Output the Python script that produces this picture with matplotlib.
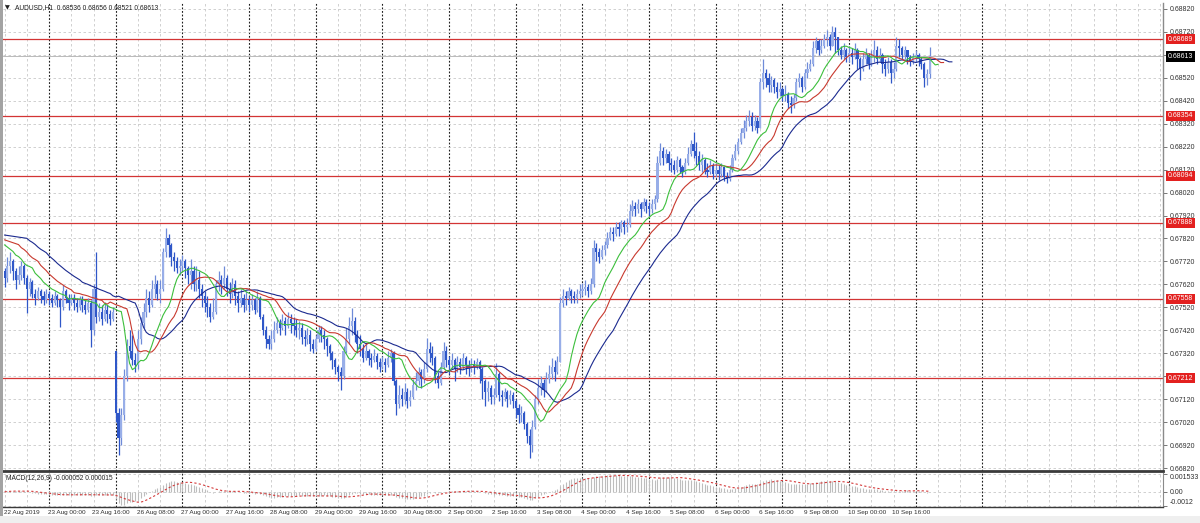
import numpy as np
import matplotlib
matplotlib.use("Agg")
import matplotlib.pyplot as plt
from matplotlib.patches import Rectangle
from matplotlib.transforms import blended_transform_factory as blend

plt.rcParams["font.family"] = ["Liberation Sans", "DejaVu Sans"]

# ---------------- data (prices in points, 1 point = 0.00001) ----------------
symbol_title = "AUDUSD,H1  0.68536 0.68656 0.68521 0.68613"
macd_title = "MACD(12,26,9) -0.000052 0.000015"

first_open = 67680
gap_opens = {40: 67330}

close_pts = [
    67650, 67700, 67720, 67680, 67640, 67660, 67700, 67650,
    67600, 67630, 67580, 67560, 67590, 67570, 67550, 67580,
    67560, 67540, 67570, 67550, 67520, 67590, 67560, 67540,
    67560, 67540, 67520, 67550, 67530, 67510, 67540, 67420,
    67600, 67480, 67500, 67470, 67510, 67490, 67470, 67500,
    67060, 66950, 67050, 67220, 67350, 67330, 67290, 67270,
    67380, 67450, 67500, 67560, 67530, 67600, 67620, 67580,
    67600, 67760, 67820, 67790, 67740, 67720, 67690, 67700,
    67720, 67690, 67660, 67680, 67620, 67640, 67600, 67570,
    67540, 67520, 67480, 67500, 67620, 67640, 67620, 67650,
    67600, 67580, 67620, 67570, 67540, 67560, 67530, 67550,
    67530, 67550, 67510, 67560, 67480, 67420, 67380, 67360,
    67380, 67420, 67450, 67430, 67460, 67440, 67470, 67450,
    67440, 67420, 67430, 67390, 67380, 67400, 67360, 67340,
    67380, 67420, 67400, 67380, 67350, 67320, 67290, 67260,
    67240, 67220, 67330, 67380, 67440, 67460, 67400, 67360,
    67340, 67300, 67330, 67300, 67290, 67310, 67280, 67260,
    67280, 67270, 67300, 67320, 67200, 67100, 67140, 67120,
    67150, 67110, 67130, 67180, 67200, 67240, 67210, 67250,
    67340, 67320, 67300, 67220, 67190, 67260, 67330, 67290,
    67270, 67290, 67250, 67280, 67260, 67300, 67270, 67250,
    67270, 67260, 67280, 67250, 67200, 67150, 67170, 67130,
    67140, 67230, 67140, 67130, 67150, 67120, 67140, 67110,
    67080, 67050, 67060, 67010, 66960, 66920, 67000, 67120,
    67170, 67190, 67160, 67210, 67230, 67260, 67240, 67280,
    67540, 67570, 67560, 67590, 67570, 67560, 67580, 67590,
    67600, 67610, 67590, 67620, 67780, 67760, 67740, 67770,
    67790, 67820, 67850, 67840, 67870, 67860, 67890, 67870,
    67880, 67940, 67960, 67950, 67970, 67950, 67980, 67960,
    67950, 67970, 67990, 68150, 68200, 68170, 68190, 68150,
    68140, 68120, 68160, 68130, 68110, 68150, 68190, 68230,
    68200, 68180, 68140, 68160, 68120, 68110, 68140, 68100,
    68120, 68100, 68130, 68090, 68080, 68120, 68170, 68200,
    68240, 68280, 68300, 68330, 68350, 68310, 68330, 68300,
    68500, 68540, 68520, 68490, 68510, 68480, 68460, 68470,
    68440, 68450, 68410, 68400, 68430, 68500, 68520, 68480,
    68540, 68560, 68580, 68650, 68680, 68640, 68660, 68690,
    68700, 68660, 68720, 68700, 68640, 68620, 68640, 68610,
    68630, 68610, 68640, 68600, 68560, 68600, 68620, 68580,
    68610, 68640, 68600, 68620, 68580, 68560, 68590, 68540,
    68560, 68660, 68650, 68620, 68640, 68610, 68590, 68610,
    68620, 68600, 68580, 68520, 68536, 68613,
]

high_pts = [
    67690, 67740, 67760, 67730, 67690, 67700, 67720, 67710,
    67660, 67650, 67640, 67600, 67610, 67600, 67590, 67600,
    67590, 67580, 67590, 67580, 67560, 67617, 67600, 67580,
    67580, 67580, 67560, 67570, 67570, 67550, 67560, 67550,
    67620, 67761, 67540, 67530, 67545, 67530, 67510, 67520,
    67330, 67080, 67080, 67250, 67380, 67420, 67400, 67320,
    67420, 67480, 67540, 67600, 67590, 67640, 67660, 67640,
    67640, 67780, 67866, 67840, 67800, 67760, 67740, 67730,
    67750, 67730, 67700, 67730, 67700, 67700, 67680, 67620,
    67590, 67570, 67540, 67560, 67640, 67680, 67660, 67700,
    67660, 67630, 67650, 67640, 67590, 67600, 67580, 67590,
    67570, 67580, 67560, 67590, 67570, 67490, 67440, 67400,
    67420, 67460, 67480, 67470, 67490, 67480, 67500, 67490,
    67480, 67470, 67460, 67450, 67420, 67430, 67420, 67380,
    67400, 67443, 67440, 67420, 67390, 67360, 67330, 67300,
    67270, 67260, 67350, 67430, 67480, 67517, 67480, 67420,
    67400, 67360, 67360, 67340, 67320, 67340, 67320, 67300,
    67310, 67300, 67330, 67340, 67330, 67210, 67180, 67170,
    67190, 67170, 67160, 67210, 67240, 67260, 67250, 67280,
    67387, 67370, 67350, 67310, 67240, 67280, 67369, 67350,
    67310, 67320, 67300, 67310, 67300, 67320, 67310, 67290,
    67300, 67290, 67300, 67290, 67260, 67210, 67200, 67180,
    67170, 67278, 67240, 67160, 67170, 67160, 67160, 67150,
    67120, 67100, 67090, 67070, 67020, 66990, 67030, 67140,
    67210, 67220, 67210, 67240, 67270, 67300, 67290, 67310,
    67565, 67600, 67590, 67610, 67600, 67590, 67600, 67620,
    67626, 67640, 67620, 67650, 67814, 67800, 67780, 67790,
    67810, 67850, 67870, 67870, 67890, 67890, 67901, 67900,
    67910, 67970, 67988, 67980, 67990, 67980, 67995, 67990,
    67980, 67990, 68010, 68180, 68236, 68220, 68210, 68200,
    68170, 68160, 68180, 68170, 68140, 68170, 68220, 68250,
    68284, 68240, 68200, 68190, 68170, 68150, 68160, 68150,
    68150, 68140, 68149, 68130, 68110, 68140, 68190, 68230,
    68260, 68300, 68336, 68360, 68380, 68370, 68360, 68350,
    68520, 68600, 68560, 68540, 68530, 68520, 68500, 68500,
    68480, 68490, 68460, 68440, 68450, 68520, 68540, 68530,
    68560, 68590, 68600, 68680, 68700, 68690, 68690, 68710,
    68730, 68710, 68746, 68740, 68700, 68660, 68670, 68650,
    68660, 68650, 68670, 68650, 68610, 68630, 68650, 68630,
    68640, 68685, 68660, 68650, 68630, 68600, 68610, 68600,
    68590, 68700, 68690, 68660, 68660, 68640, 68620, 68630,
    68640, 68630, 68610, 68590, 68560, 68656,
]

low_pts = [
    67610, 67630, 67670, 67640, 67600, 67620, 67640, 67620,
    67496, 67570, 67560, 67530, 67550, 67540, 67530, 67540,
    67530, 67520, 67530, 67520, 67435, 67510, 67540, 67510,
    67530, 67510, 67500, 67510, 67500, 67490, 67500, 67347,
    67400, 67450, 67460, 67443, 67460, 67450, 67445, 67460,
    67020, 66877, 66920, 67030, 67200, 67300, 67270, 67240,
    67250, 67360, 67430, 67480, 67500, 67520, 67560, 67550,
    67540, 67590, 67740, 67740, 67700, 67680, 67670, 67660,
    67680, 67650, 67620, 67600, 67590, 67590, 67560, 67520,
    67500, 67480, 67457, 67470, 67490, 67590, 67580, 67600,
    67570, 67540, 67560, 67530, 67500, 67520, 67500, 67510,
    67500, 67510, 67490, 67500, 67470, 67400, 67343, 67340,
    67340, 67370, 67410, 67400, 67420, 67400, 67430, 67410,
    67400, 67390, 67380, 67360, 67350, 67360, 67330, 67321,
    67330, 67370, 67370, 67340, 67310, 67290, 67250, 67230,
    67200, 67160, 67210, 67320, 67360, 67400, 67370, 67320,
    67310, 67282, 67290, 67270, 67260, 67280, 67250, 67240,
    67250, 67240, 67260, 67280, 67180, 67051, 67080, 67090,
    67100, 67082, 67090, 67120, 67160, 67180, 67170, 67190,
    67240, 67280, 67270, 67190, 67169, 67180, 67250, 67260,
    67230, 67250, 67200, 67240, 67230, 67250, 67230, 67220,
    67240, 67230, 67250, 67190, 67120, 67090, 67110, 67100,
    67100, 67130, 67110, 67090, 67110, 67086, 67100, 67080,
    67040, 67016, 67020, 66990, 66930, 66864, 66890, 66990,
    67100, 67140, 67130, 67150, 67190, 67210, 67200, 67230,
    67300, 67520, 67530, 67550, 67540, 67539, 67540, 67560,
    67570, 67575, 67565, 67580, 67609, 67720, 67713, 67730,
    67750, 67780, 67814, 67810, 67830, 67830, 67850, 67840,
    67850, 67870, 67920, 67920, 67930, 67914, 67940, 67930,
    67920, 67930, 67950, 67980, 68140, 68140, 68150, 68120,
    68110, 68100, 68110, 68105, 68090, 68100, 68140, 68180,
    68170, 68140, 68120, 68110, 68100, 68090, 68100, 68080,
    68090, 68075, 68090, 68070, 68062, 68070, 68110, 68160,
    68190, 68230, 68260, 68290, 68310, 68290, 68293, 68280,
    68300, 68470, 68480, 68460, 68460, 68454, 68430, 68440,
    68420, 68420, 68390, 68367, 68390, 68420, 68480, 68460,
    68470, 68520, 68550, 68570, 68630, 68620, 68630, 68650,
    68660, 68640, 68660, 68630, 68620, 68600, 68600, 68590,
    68590, 68580, 68600, 68560, 68511, 68550, 68580, 68560,
    68570, 68590, 68580, 68590, 68540, 68530, 68540, 68498,
    68520, 68550, 68610, 68600, 68600, 68580, 68570, 68580,
    68590, 68570, 68560, 68480, 68490, 68521,
]

level_prices = [0.68689, 0.68354, 0.68094, 0.67888, 0.67558, 0.67212]
bid_price = 0.68613
alligator_start = {"jaw": 0.67835, "teeth": 0.67814, "lips": 0.67792}

time_labels = ["22 Aug 2019", "23 Aug 00:00", "23 Aug 16:00", "26 Aug 08:00",
               "27 Aug 00:00", "27 Aug 16:00", "28 Aug 08:00", "29 Aug 00:00",
               "29 Aug 16:00", "30 Aug 08:00", "2 Sep 00:00", "2 Sep 16:00",
               "3 Sep 08:00", "4 Sep 00:00", "4 Sep 16:00", "5 Sep 08:00",
               "6 Sep 00:00", "6 Sep 16:00", "9 Sep 08:00", "10 Sep 00:00",
               "10 Sep 16:00"]
price_tick_labels = ["0.66820", "0.66920", "0.67020", "0.67120", "0.67220",
                     "0.67320", "0.67420", "0.67520", "0.67620", "0.67720",
                     "0.67820", "0.67920", "0.68020", "0.68120", "0.68220",
                     "0.68320", "0.68420", "0.68520", "0.68620", "0.68720",
                     "0.68820"]
macd_tick_labels = ["0.001533", "0.00", "-0.0012"]

# ---------------- preparation ----------------
N = len(close_pts)
assert len(high_pts) == N and len(low_pts) == N, (N, len(high_pts), len(low_pts))

close = np.array(close_pts, float) / 1e5
high = np.array(high_pts, float) / 1e5
low = np.array(low_pts, float) / 1e5
opens = np.r_[first_open, close_pts[:-1]].astype(float) / 1e5
for k, v in gap_opens.items():
    opens[k] = v / 1e5
high = np.maximum(high, np.maximum(opens, close))
low = np.minimum(low, np.minimum(opens, close))
idx = np.arange(N)

median = (high + low) / 2


def smma(src, n, init):
    out = np.empty(len(src))
    s = init
    for i, p in enumerate(src):
        s = (s * (n - 1) + p) / n
        out[i] = s
    return out


def ema(src, n):
    a = 2.0 / (n + 1)
    out = np.empty(len(src))
    s = src[0]
    for i, p in enumerate(src):
        s = s + a * (p - s)
        out[i] = s
    return out


jaw = smma(median, 13, alligator_start["jaw"])
teeth = smma(median, 8, alligator_start["teeth"])
lips = smma(median, 5, alligator_start["lips"])

macd = ema(close, 12) - ema(close, 26)
signal = np.array([macd[max(0, i - 8):i + 1].mean() for i in range(N)])

# ---------------- figure ----------------
W, H = 1200, 523
fig = plt.figure(figsize=(W / 100, H / 100), dpi=100)
fig.patch.set_facecolor("white")

FS = 5.0          # MT4-like small font
FS_TITLE = 4.75
FS_TIME = 4.6


def fx(px):
    return px / W


def fy(py):
    return 1 - py / H


ax = fig.add_axes([fx(3), fy(471), fx(1163) - fx(3), fy(3) - fy(471)])
ax2 = fig.add_axes([fx(3), fy(507), fx(1163) - fx(3), fy(473) - fy(507)], sharex=ax)

XMIN, XMAX = -0.58, 417.0
ax.set_xlim(XMIN, XMAX)
ax.set_ylim(0.66807, 0.68846)

grid_c = "#c9c9c9"
sep_c = "#1e1e1e"

for a in (ax, ax2):
    a.set_facecolor("white")
    for k in range(0, 53):
        xi = 8 * k
        if (xi - 16) % 24 == 0 and 16 <= xi <= 352:
            a.axvline(xi, color=sep_c, lw=0.8, ls=(0, (1.6, 1.6)), zorder=1)
        else:
            a.axvline(xi, color=grid_c, lw=0.6, ls=(0, (3, 3)), zorder=1)

price_ticks = [float(t) for t in price_tick_labels]
for p in price_ticks:
    ax.axhline(p, color=grid_c, lw=0.6, ls=(0, (3, 3)), zorder=1)

# levels
for lv in level_prices:
    ax.axhline(lv, color="#d33434", lw=0.9, zorder=2)
ax.axhline(bid_price, color="#b0b0b0", lw=0.6, zorder=2)

# candles
up = close >= opens
bull_body, bear_body = "#98aee8", "#2f57c8"
bull_wick, bear_wick = "#6f8bd8", "#2f57c8"
ax.vlines(idx, low, high, colors=np.where(up, bull_wick, bear_wick), lw=0.9, zorder=3)
body_h = np.maximum(np.abs(close - opens), 0.000015)
ax.bar(idx, body_h, bottom=np.minimum(opens, close), width=0.78,
       color=np.where(up, bull_body, bear_body), linewidth=0, zorder=4)

# alligator (shifted)
ax.plot(np.r_[0, idx + 8], np.r_[alligator_start["jaw"], jaw], color="#1b2a8f", lw=0.8, zorder=5)
ax.plot(np.r_[0, idx + 5], np.r_[alligator_start["teeth"], teeth], color="#c8392e", lw=0.8, zorder=5)
ax.plot(np.r_[0, idx + 3], np.r_[alligator_start["lips"], lips], color="#3cbf3c", lw=0.8, zorder=5)

# price axis
ax.yaxis.tick_right()
ax.set_yticks(price_ticks)
ax.set_yticklabels(price_tick_labels)
ax.tick_params(axis="y", right=True, left=False, direction="out", length=3, width=0.6,
               color="#606060", pad=2, labelsize=FS, labelcolor="#303030")
ax.tick_params(axis="x", bottom=False, labelbottom=False)

for s in ("top", "left"):
    ax.spines[s].set_visible(False)
ax.spines["right"].set_color("#8a8a8a")
ax.spines["right"].set_linewidth(1.0)
ax.spines["bottom"].set_color("#3a3a3a")
ax.spines["bottom"].set_linewidth(2.0)

tb = blend(ax.transAxes, ax.transData)
for lv in level_prices:
    ax.text(1.0043, lv, f"{lv:.5f}", transform=tb, ha="left", va="center", fontsize=FS,
            color="white", zorder=10, clip_on=False,
            bbox=dict(boxstyle="square,pad=0.22", fc="#e3201f", ec="none"))
ax.text(1.0043, bid_price, f"{bid_price:.5f}", transform=tb, ha="left", va="center",
        fontsize=FS, color="white", zorder=10, clip_on=False,
        bbox=dict(boxstyle="square,pad=0.22", fc="#000000", ec="none"))

# MACD panel
ax2.set_ylim(-0.00130, 0.00160)
ax2.vlines(idx, 0, macd, colors="#bdbdbd", lw=0.8, zorder=3)
ax2.plot(idx, signal, color="#d43a3a", lw=0.8, ls=(0, (2, 2)), zorder=4)
macd_ticks = [float(t) for t in macd_tick_labels]
for p in macd_ticks:
    ax2.axhline(p, color=grid_c, lw=0.6, ls=(0, (3, 3)), zorder=1)
ax2.yaxis.tick_right()
ax2.set_yticks(macd_ticks)
ax2.set_yticklabels(macd_tick_labels)
ax2.tick_params(axis="y", right=True, left=False, direction="out", length=3, width=0.6,
                color="#606060", pad=2, labelsize=FS, labelcolor="#303030")
ticklabs = ax2.get_yticklabels()
ticklabs[0].set_va("top")
ticklabs[2].set_va("bottom")
ax2.tick_params(axis="x", bottom=False, labelbottom=False)
for s in ("top", "left"):
    ax2.spines[s].set_visible(False)
ax2.spines["right"].set_color("#8a8a8a")
ax2.spines["bottom"].set_color("#3a3a3a")
ax2.spines["bottom"].set_linewidth(1.0)

# time labels
tx = blend(ax2.transData, ax2.transAxes)
for k, lab in enumerate(time_labels):
    ax2.text(16 * k - 0.4, -0.16, lab, transform=tx, ha="left", va="center",
             fontsize=FS_TIME, color="#303030", clip_on=False)

# titles
fig.text(fx(5), fy(7.5), "\u25bc", fontsize=4.5, color="#202020", ha="left", va="center",
         family="DejaVu Sans")
fig.text(fx(15), fy(7.5), symbol_title, fontsize=FS_TITLE, color="#202020", ha="left", va="center")
fig.text(fx(6), fy(479), macd_title, fontsize=FS_TITLE, color="#202020", ha="left", va="center")

# window chrome
fig.patches.append(Rectangle((0, fy(516)), fx(3), fy(0) - fy(516), transform=fig.transFigure,
                             fc="#a3a3a3", ec="none", zorder=0))
fig.patches.append(Rectangle((0, 0), 1, fy(516), transform=fig.transFigure,
                             fc="#efefef", ec="none", zorder=0))

fig.savefig("out.png", dpi=100)
